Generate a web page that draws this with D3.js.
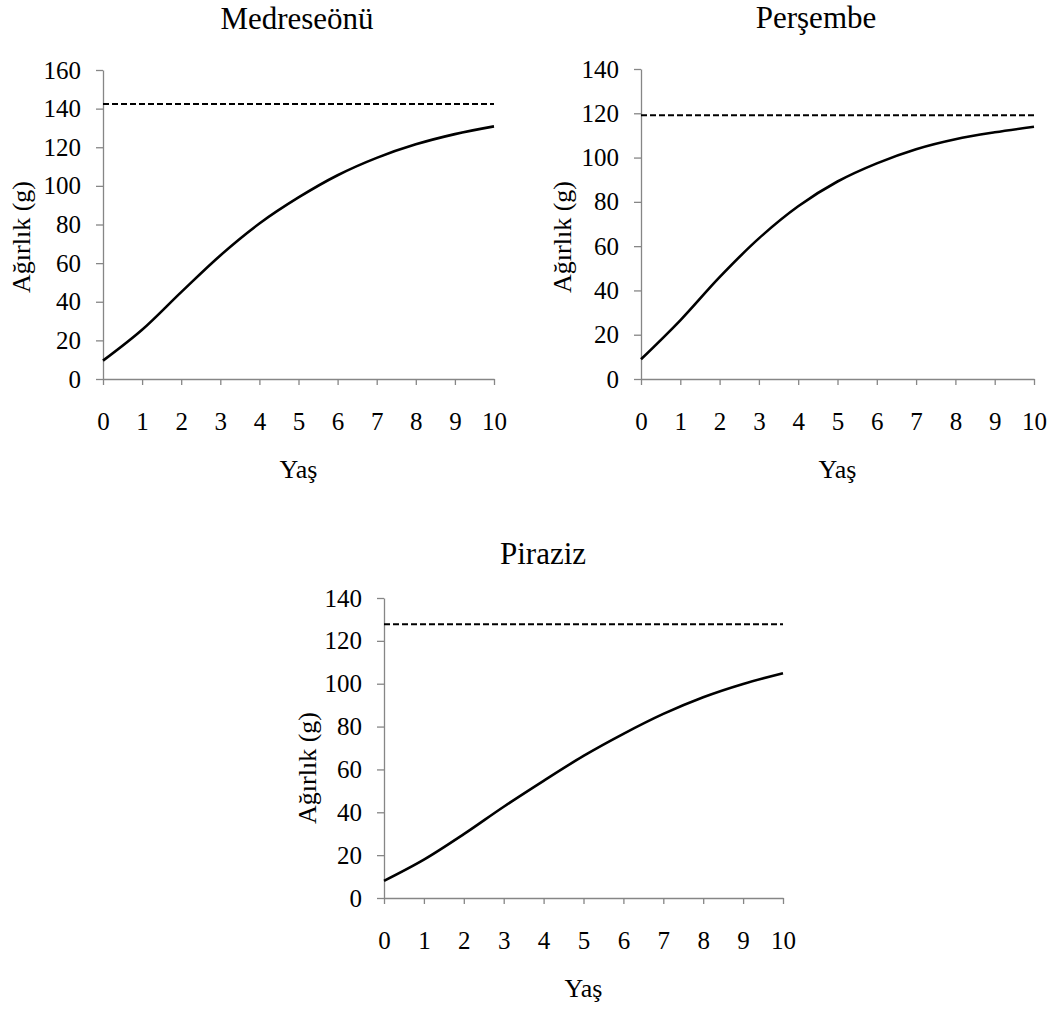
<!DOCTYPE html>
<html>
<head>
<meta charset="utf-8">
<script src="https://cdn.jsdelivr.net/npm/d3@7"></script>
<style>
  body { margin: 0; background: #fff; }
  svg text { font-family: "Liberation Serif", "Times New Roman", Tinos, "DejaVu Serif", serif !important; fill: #000; }
</style>
</head>
<body>
<div id="chart"></div>
<script>
// Data (weight in g by age in years)
const ages = [0, 1, 2, 3, 4, 5, 6, 7, 8, 9, 10];
const medreseonuWeight = [9.5, 25.5, 45, 64, 80.5, 94, 105.5, 114.5, 121.5, 126.8, 130.8];
const persembeWeight = [8.9, 26.5, 46, 63.5, 78, 89.2, 97.4, 103.8, 108.3, 111.4, 113.9];
const pirazizWeight = [8, 17.9, 29.8, 42.6, 54.7, 66.3, 76.6, 85.9, 93.7, 99.9, 104.9];

// Asymptotic weight (dashed line)
const medreseonuWinf = 142.4;
const persembeWinf = 119.1;
const pirazizWinf = 127.8;

const panelTitles = ['Medreseönü', 'Perşembe', 'Piraziz'];
const yMaxValues = [160, 140, 140];
const xTickValues = [0, 1, 2, 3, 4, 5, 6, 7, 8, 9, 10];
const xLabel = 'Yaş';
const yLabel = 'Ağırlık (g)';

const width = 1062;
const height = 1010;

const fontFamily = '"Liberation Serif", "Times New Roman", Tinos, "DejaVu Serif", serif';
const axisColor = '#868686';
const tickFont = 25;
const labelFont = 26;
const titleFont = 31;

// Panel layout (pixels)
const layout = [
  { left: 103, right: 494, top: 70, bottom: 379, titleX: 297, titleY: 29, yLabelX: 30, yLabelY: 237 },
  { left: 641, right: 1034, top: 69, bottom: 379, titleX: 816, titleY: 28, yLabelX: 571, yLabelY: 237 },
  { left: 384, right: 783, top: 598, bottom: 898, titleX: 543, titleY: 564, yLabelX: 316, yLabelY: 768 }
];

const series = [medreseonuWeight, persembeWeight, pirazizWeight];
const asymptotes = [medreseonuWinf, persembeWinf, pirazizWinf];

const svg = d3.select('#chart')
  .append('svg')
  .attr('width', width)
  .attr('height', height)
  .attr('font-family', fontFamily);

function drawPanel(i) {
  const lay = layout[i];
  const g = svg.append('g').attr('class', 'panel');

  const xScale = d3.scaleLinear()
    .domain([0, 10])
    .range([lay.left, lay.right]);

  const yScale = d3.scaleLinear()
    .domain([0, yMaxValues[i]])
    .range([lay.bottom, lay.top]);

  // X axis
  const xAxis = g.append('g')
    .attr('transform', `translate(0, ${lay.bottom})`)
    .call(d3.axisBottom(xScale)
      .tickValues(xTickValues)
      .tickFormat(d3.format('d'))
      .tickSize(6)
      .tickSizeOuter(0)
      .tickPadding(27));

  // Y axis
  const yAxis = g.append('g')
    .attr('transform', `translate(${lay.left}, 0)`)
    .call(d3.axisLeft(yScale)
      .tickValues(d3.range(0, yMaxValues[i] + 1, 20))
      .tickSize(7)
      .tickSizeOuter(0)
      .tickPadding(15));

  [xAxis, yAxis].forEach((ax) => {
    ax.attr('font-family', fontFamily);
    ax.select('.domain').attr('stroke', axisColor).attr('stroke-width', 1.3);
    ax.selectAll('.tick line').attr('stroke', axisColor).attr('stroke-width', 1.3);
    ax.selectAll('.tick text')
      .attr('fill', '#000')
      .attr('font-family', fontFamily)
      .style('font-size', `${tickFont}px`);
  });

  // Asymptote
  g.append('line')
    .attr('x1', xScale(0))
    .attr('x2', xScale(10))
    .attr('y1', yScale(asymptotes[i]))
    .attr('y2', yScale(asymptotes[i]))
    .attr('stroke', '#000')
    .attr('stroke-width', 2)
    .attr('stroke-dasharray', '6,3');

  // Growth curve
  const line = d3.line()
    .x((d, j) => xScale(ages[j]))
    .y((d) => yScale(d))
    .curve(d3.curveCatmullRom);

  g.append('path')
    .datum(series[i])
    .attr('d', line)
    .attr('fill', 'none')
    .attr('stroke', '#000')
    .attr('stroke-width', 2.6);

  // Titles
  g.append('text')
    .attr('x', lay.titleX)
    .attr('y', lay.titleY)
    .attr('text-anchor', 'middle')
    .attr('font-family', fontFamily)
    .style('font-size', `${titleFont}px`)
    .text(panelTitles[i]);

  g.append('text')
    .attr('x', (lay.left + lay.right) / 2)
    .attr('y', lay.bottom + 99)
    .attr('text-anchor', 'middle')
    .attr('font-family', fontFamily)
    .style('font-size', `${labelFont}px`)
    .text(xLabel);

  g.append('text')
    .attr('transform', `translate(${lay.yLabelX}, ${lay.yLabelY}) rotate(-90)`)
    .attr('text-anchor', 'middle')
    .attr('font-family', fontFamily)
    .style('font-size', `${labelFont}px`)
    .text(yLabel);
}

panelTitles.forEach((name, i) => drawPanel(i));
</script>
</body>
</html>
